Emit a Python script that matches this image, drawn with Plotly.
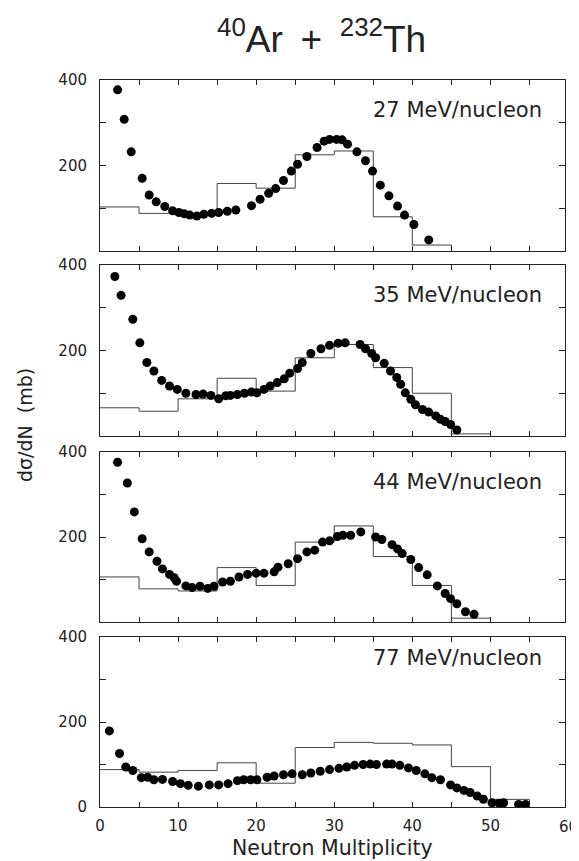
import plotly.graph_objects as go

# ---------------- data ----------------
energies = ["27 MeV/nucleon", "35 MeV/nucleon", "44 MeV/nucleon", "77 MeV/nucleon"]

n27 = [2.25, 3.1, 4.0, 5.4, 6.3, 7.2, 8.3, 9.3, 10.1, 10.8, 11.5, 12.4, 13.3, 14.3, 15.2, 16.3, 17.4,
       19.4, 20.5, 21.6, 22.5, 23.5, 24.5, 25.3, 26.5, 27.8, 28.7, 29.4, 30.3, 31.0, 31.7, 32.9, 34.0,
       34.9, 35.9, 37.0, 38.1, 39.0, 40.2, 42.1]
s27 = [377, 308, 232, 170, 131, 115, 104, 94, 90, 87, 84, 82, 86, 88, 90, 93, 96,
       106, 121, 135, 146, 165, 187, 203, 221, 242, 257, 261, 261, 260, 250, 232, 211,
       187, 154, 129, 105, 84, 62, 26]

n35 = [1.9, 2.7, 4.2, 5.1, 6.0, 6.9, 7.9, 8.9, 9.9, 11.0, 12.3, 13.2, 14.2, 15.2, 16.1, 16.7, 17.6,
       18.5, 19.4, 20.1, 21.0, 21.8, 22.7, 23.6, 24.3, 25.3, 25.9, 27.0, 28.3, 29.4, 30.5, 31.4, 33.3,
       34.0, 34.8, 35.3, 36.4, 37.2, 38.0, 38.5, 39.1, 39.8, 40.4, 41.3, 42.1, 43.0, 43.6, 44.2, 44.9, 45.7]
s35 = [373, 329, 273, 218, 172, 152, 130, 117, 109, 100, 97, 98, 95, 87, 94, 95, 97,
       100, 103, 101, 109, 117, 125, 134, 147, 158, 172, 193, 204, 212, 217, 218, 214,
       204, 193, 183, 170, 152, 137, 121, 101, 86, 73, 62, 56, 47, 39, 34, 27, 14]

n44 = [2.25, 3.5, 4.4, 5.4, 6.3, 7.3, 8.0, 8.9, 9.5, 9.8, 11.0, 11.8, 12.8, 13.8, 14.6, 15.7, 16.7,
       17.8, 18.9, 20.0, 21.0, 22.3, 22.8, 24.1, 25.3, 26.5, 27.5, 28.5, 29.4, 30.4, 31.1, 32.1, 33.4,
       35.3, 36.1, 37.4, 38.1, 38.7, 39.8, 40.8, 41.9, 43.2, 44.2, 44.9, 45.7, 46.8, 47.9]
s44 = [376, 327, 259, 196, 165, 143, 125, 112, 104, 96, 85, 81, 84, 79, 84, 94, 96,
       106, 112, 115, 115, 118, 129, 137, 149, 165, 169, 188, 191, 201, 204, 204, 212,
       200, 194, 182, 172, 161, 147, 128, 111, 85, 67, 55, 43, 24, 18]

n77 = [1.2, 2.5, 3.3, 4.2, 5.3, 6.1, 6.9, 8.0, 9.3, 10.3, 11.3, 12.6, 14.0, 15.2, 16.4, 17.6, 18.4,
       19.3, 20.1, 21.4, 22.3, 23.5, 24.6, 25.9, 27.0, 28.2, 29.4, 30.6, 31.6, 32.6, 33.7, 34.6, 35.4,
       36.7, 37.4, 38.4, 39.5, 40.5, 41.6, 42.5, 43.6, 44.9, 45.7, 46.6, 47.4, 48.3, 49.1, 50.2, 51.1,
       51.7, 53.6, 54.5]
s77 = [179, 126, 94, 86, 69, 70, 64, 65, 60, 55, 51, 49, 52, 52, 55, 62, 64,
       64, 64, 70, 73, 76, 78, 76, 80, 84, 88, 91, 94, 98, 100, 101, 100,
       101, 101, 98, 92, 86, 78, 69, 64, 52, 45, 39, 34, 26, 18, 10, 9,
       10, 6, 6]

# calculated histograms (bin edges every 5 units, last value closes to zero)
h27_x = [0, 5, 10, 15, 20, 25, 30, 35, 40, 45]
h27_y = [103, 88, 85, 158, 147, 225, 234, 80, 14, 0]
h35_x = [0, 5, 10, 15, 20, 25, 30, 35, 40, 45, 50]
h35_y = [66, 58, 87, 135, 105, 183, 214, 160, 100, 5, 0]
h44_x = [0, 5, 10, 15, 20, 25, 30, 35, 40, 45, 50]
h44_y = [106, 78, 73, 128, 86, 188, 226, 154, 86, 9, 0]
h77_x = [0, 5, 10, 15, 20, 25, 30, 35, 40, 45, 50, 55]
h77_y = [88, 82, 86, 104, 56, 140, 152, 150, 146, 95, 18, 0]

x_tickvals = [0, 10, 20, 30, 40, 50]
x_edge_label = 60
x_max = 59.55
y_tickvals_top = [200, 400]
y_tickvals_bottom = [0, 200, 400]
label_y = [330, 330, 329, 351]

panels = [(n27, s27, h27_x, h27_y), (n35, s35, h35_x, h35_y),
          (n44, s44, h44_x, h44_y), (n77, s77, h77_x, h77_y)]

# ---------------- figure ----------------
# the page body adds an 8 px offset, so the figure is 8 px smaller and shifted
OFF = 8
W, H = 579 - OFF, 861 - OFF
ML, MR, MT, MB = 100 - OFF, 14, 80 - OFF, 54
PH = H - MT - MB
boxes = [(80, 251), (265, 436), (452, 622), (637, 807)]   # page pixels

def to_paper(py):
    return (H - MB - (py - OFF)) / PH

def to_paper_x(px):
    return (px - OFF - ML) / (W - ML - MR)

fig = go.Figure()
ink = "#222"
tickfont = dict(family="DejaVu Sans", size=15, color=ink)

for i, (nx, sy, hx, hy) in enumerate(panels):
    k = "" if i == 0 else str(i + 1)
    xa, ya = "x" + k, "y" + k
    fig.add_trace(go.Scatter(x=hx, y=hy, mode="lines", line_shape="hv",
                             line=dict(color="#444", width=1), xaxis=xa, yaxis=ya,
                             showlegend=False, hoverinfo="skip"))
    fig.add_trace(go.Scatter(x=nx, y=sy, mode="markers",
                             marker=dict(color="black", size=9), xaxis=xa, yaxis=ya,
                             showlegend=False))
    top, bot = boxes[i]
    last = i == 3
    fig.layout["xaxis" + k] = dict(
        domain=[0, 1], anchor=ya, range=[0, x_max],
        tickmode="array", tickvals=x_tickvals,
        showticklabels=last, ticks="inside", ticklen=5, tickcolor=ink,
        minor=dict(ticks="inside", dtick=5, tick0=0, ticklen=5, tickcolor=ink, showgrid=False),
        showline=True, linecolor=ink, linewidth=1, mirror="ticks",
        showgrid=False, zeroline=False, tickfont=tickfont, ticklabelstandoff=5,
        automargin=False,
    )
    fig.layout["yaxis" + k] = dict(
        domain=[to_paper(bot), to_paper(top)], anchor=xa, range=[0, 400],
        tickmode="array", tickvals=y_tickvals_bottom if last else y_tickvals_top,
        ticks="inside", ticklen=6, tickcolor=ink,
        minor=dict(ticks="inside", dtick=100, tick0=0, ticklen=6, tickcolor=ink, showgrid=False),
        showline=True, linecolor=ink, linewidth=1, mirror="ticks",
        showgrid=False, zeroline=False, tickfont=tickfont, ticklabelstandoff=9,
        automargin=False,
    )
    fig.add_annotation(text=energies[i], xref=xa, yref=ya, x=56.8, y=label_y[i],
                       xanchor="right", yanchor="middle", showarrow=False,
                       font=dict(family="DejaVu Sans", size=21, color=ink))

# tick label "60" sits just past the right frame edge (paper coordinates)
fig.add_annotation(text=str(x_edge_label), xref="paper", yref="paper",
                   x=x_edge_label / x_max, y=to_paper(827),
                   xanchor="center", yanchor="middle", showarrow=False, font=tickfont)

fig.add_annotation(text="<sup>40</sup>Ar\u2009 +\u2009 <sup>232</sup>Th", xref="paper", yref="paper",
                   x=to_paper_x(215), y=to_paper(37), xanchor="left",
                   yanchor="middle", showarrow=False,
                   font=dict(family="Liberation Sans", size=37, color=ink))
fig.add_annotation(text="dσ/dN\u00a0\u00a0(mb)", xref="paper", yref="paper",
                   x=to_paper_x(25), y=to_paper(425), textangle=-90,
                   xanchor="center", yanchor="middle", showarrow=False,
                   font=dict(family="DejaVu Sans", size=19, color=ink))
fig.add_annotation(text="Neutron Multiplicity", xref="paper", yref="paper",
                   x=0.5, y=to_paper(848), xanchor="center", yanchor="middle",
                   showarrow=False,
                   font=dict(family="DejaVu Sans", size=20.5, color=ink))

fig.update_layout(width=W, height=H, margin=dict(l=ML, r=MR, t=MT, b=MB),
                  plot_bgcolor="white", paper_bgcolor="white")
fig.write_html("out.html")
